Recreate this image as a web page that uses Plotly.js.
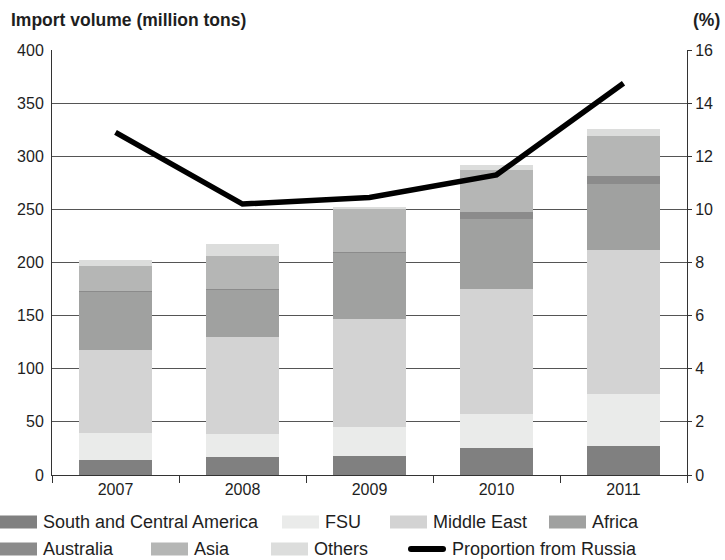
<!DOCTYPE html>
<html>
<head>
<meta charset="utf-8">
<script src="https://cdn.plot.ly/plotly-3.0.1.min.js"></script>
<style>
  html, body { margin: 0; padding: 0; background: #fff; }
  #chart { width: 725px; height: 560px; }
</style>
</head>
<body>
<div id="chart"></div>
<script>
// Import volume by origin (million tons) and share from Russia (%)
const years = ['2007', '2008', '2009', '2010', '2011'];
const southCentralAmerica = [14, 17, 18, 25, 27];
const fsu = [26, 22, 27, 32, 49];
const middleEast = [78, 91, 102, 118, 136];
const africa = [54, 44, 62, 66, 62];
const australia = [1, 1, 1, 7, 7];
const asia = [24, 31, 40, 39, 38];
const others = [5, 11, 2, 5, 7];
const russiaShare = [12.9, 10.2, 10.45, 11.3, 14.75];

const seriesNames = ['South and Central America', 'FSU', 'Middle East', 'Africa',
                     'Australia', 'Asia', 'Others'];
const seriesValues = [southCentralAmerica, fsu, middleEast, africa, australia, asia, others];
const seriesColors = ['#808080', '#eaebea', '#d3d3d3', '#a0a1a0', '#8b8b8b', '#b5b6b5', '#dcdddc'];
const lineName = 'Proportion from Russia';

// page geometry (pixels)
const W = 725, H = 560;
const M = { l: 52, r: 38, t: 50, b: 85 };
const plotW = W - M.l - M.r, plotH = H - M.t - M.b;
const px = x => (x - M.l) / plotW;
const py = y => (H - M.b - y) / plotH;

const FONT = 'Liberation Sans, Arial, sans-serif';
const TEXT = '#1e1e1e';

const traces = seriesNames.map((name, i) => ({
  type: 'bar',
  name: name,
  x: years,
  y: seriesValues[i],
  marker: { color: seriesColors[i], line: { width: 0 } },
  showlegend: false,
  hoverinfo: 'name+y'
}));

traces.push({
  type: 'scatter',
  mode: 'lines',
  name: lineName,
  x: years,
  y: russiaShare,
  yaxis: 'y2',
  line: { color: '#000', width: 5.5 },
  showlegend: false
});

// hand-placed legend: swatch left edge in px, row centre in px
const legendItems = [
  { label: seriesNames[0], color: seriesColors[0], x: 0,   row: 522 },
  { label: seriesNames[1], color: seriesColors[1], x: 282, row: 522 },
  { label: seriesNames[2], color: seriesColors[2], x: 390, row: 522 },
  { label: seriesNames[3], color: seriesColors[3], x: 549, row: 522 },
  { label: seriesNames[4], color: seriesColors[4], x: 0,   row: 549 },
  { label: seriesNames[5], color: seriesColors[5], x: 151, row: 549 },
  { label: seriesNames[6], color: seriesColors[6], x: 271, row: 549 },
  { label: lineName, color: '#000', x: 408, row: 549, isLine: true }
];

const shapes = [];
const annotations = [];
legendItems.forEach(it => {
  const w = it.isLine ? 38 : 37;
  if (it.isLine) {
    shapes.push({ type: 'line', xref: 'paper', yref: 'paper',
      x0: px(it.x + 3), x1: px(it.x + w - 3), y0: py(it.row), y1: py(it.row),
      line: { color: '#000', width: 6 } });
    [it.x + 3, it.x + w - 3].forEach(cx => shapes.push({
      type: 'circle', xref: 'paper', yref: 'paper',
      x0: px(cx - 3), x1: px(cx + 3), y0: py(it.row + 3), y1: py(it.row - 3),
      fillcolor: '#000', line: { width: 0 } }));
  } else {
    shapes.push({ type: 'rect', xref: 'paper', yref: 'paper',
      x0: px(it.x), x1: px(it.x + w), y0: py(it.row + 6.5), y1: py(it.row - 6.5),
      fillcolor: it.color, line: { width: 0 } });
  }
  annotations.push({ text: it.label, xref: 'paper', yref: 'paper',
    x: px(it.x + w + 4), y: py(it.row), xanchor: 'left', yanchor: 'middle',
    showarrow: false, font: { family: FONT, size: 18, color: TEXT } });
});

annotations.push({ text: 'Import volume (million tons)', xref: 'paper', yref: 'paper',
  x: px(9), y: py(20), xanchor: 'left', yanchor: 'middle', showarrow: false,
  font: { family: FONT, size: 17.5, color: TEXT, weight: 'bold' } });
annotations.push({ text: '(%)', xref: 'paper', yref: 'paper',
  x: px(722), y: py(20), xanchor: 'right', yanchor: 'middle', showarrow: false,
  font: { family: FONT, size: 17.5, color: TEXT, weight: 'bold' } });

const layout = {
  width: W, height: H,
  margin: M,
  paper_bgcolor: '#fff', plot_bgcolor: '#fff',
  font: { family: FONT, size: 16, color: TEXT },
  barmode: 'stack',
  bargap: 0.43,
  showlegend: false,
  xaxis: {
    type: 'category',
    showline: true, linecolor: '#333', linewidth: 1,
    ticks: 'outside', tickson: 'boundaries', ticklen: 7, tickcolor: '#333',
    showgrid: false, zeroline: false,
    tickfont: { size: 16 }
  },
  yaxis: {
    range: [0, 400], dtick: 50,
    showline: true, linecolor: '#333', linewidth: 1,
    showgrid: true, gridcolor: '#555', gridwidth: 1,
    zeroline: false, ticks: '', ticklabelstandoff: 4,
    tickfont: { size: 16 }
  },
  yaxis2: {
    range: [0, 16], dtick: 2,
    overlaying: 'y', side: 'right',
    showline: true, linecolor: '#333', linewidth: 1,
    showgrid: false, zeroline: false,
    ticks: 'outside', ticklen: 4, tickcolor: '#333',
    tickfont: { size: 16 }
  },
  shapes: shapes,
  annotations: annotations
};

Plotly.newPlot('chart', traces, layout, { displayModeBar: false, staticPlot: true });
</script>
</body>
</html>
